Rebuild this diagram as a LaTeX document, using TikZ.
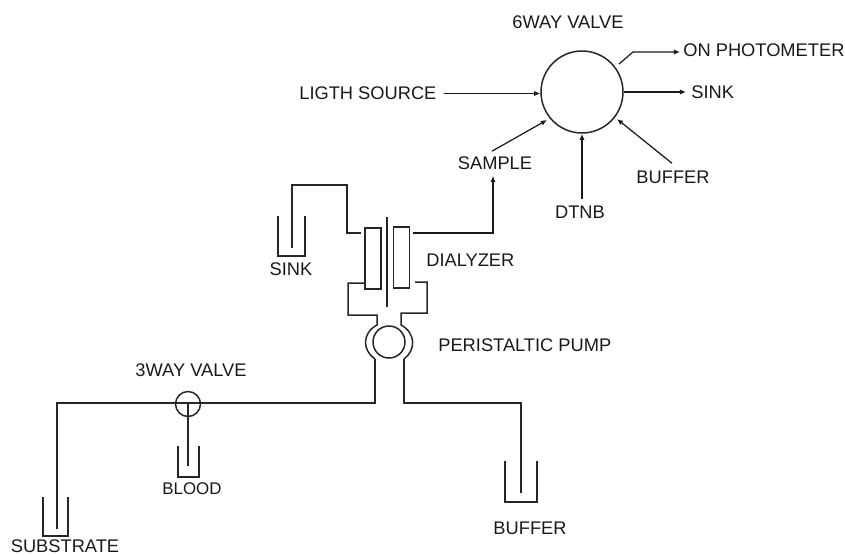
\documentclass[tikz,border=0pt]{standalone}
\usepackage{fontspec}
\setmainfont{Liberation Sans}
\usetikzlibrary{arrows.meta,positioning,calc}
\tikzset{
  lbl/.style={font=\fontsize{10.4}{12}\selectfont, text=black!90, inner sep=0pt},
  pipe/.style={draw=black!85, line width=0.85pt},
  line/.style={-{Latex[length=3.5pt,width=3pt]}, draw=black!90, line width=0.7pt},
  vessel/.style={minimum width=#1, inner sep=0pt, outer sep=0pt},
  cell/.style={pipe, minimum width=0.32cm, minimum height=1.22cm, inner sep=0pt, outer sep=0pt}
}

\begin{document}
\begin{tikzpicture}[x=0.02cm, y=-0.02cm]
  \useasboundingbox (0,0) rectangle (845,555);
  % six way valve
  \node[pipe, circle, minimum size=1.64cm, inner sep=0pt] (valvesix) at (582,92) {};
  \node[lbl] (valvesixlbl) at (568,22) {6WAY VALVE};
  \node[lbl, anchor=west] (photo) at (683,50) {ON PHOTOMETER};
  \node[lbl, anchor=west] (sinkout) at (691,92) {SINK};
  \node[lbl, anchor=west] (light) at (299,93.5) {LIGTH SOURCE};
  \node[lbl] (sample) at (495,163) {SAMPLE};
  \node[lbl] (bufin) at (673,177) {BUFFER};
  \node[lbl] (dtnb) at (580,212) {DTNB};
  \coordinate (photobend) at (633,52);
  \coordinate (photostart) at (619,64);
  \draw[line] (photostart) -- (photobend) -- ($(photo.west)+(-3,2)$);
  \draw[line] (valvesix.east) -- ($(sinkout.west)+(-5,0)$);
  \draw[line] ($(light.east)+(7,0)$) -- (light.east -| valvesix.west);
  \draw[line] ($(sample.north)+(-3,-5)$) -- (547,120);
  \draw[line] ($(bufin.north)+(-1,-7)$) -- (617,119);
  \draw[line] ($(dtnb.north)+(2,-6)$) -- (valvesix.south);

  % dialyzer
  \node[cell] (cellleft) at (373,258.5) {};
  \node[cell] (cellright) at (401.5,257.5) {};
  \coordinate (membtop) at (387,217);
  \coordinate (membbot) at (387,307);
  \draw[pipe] (membtop) -- (membbot);
  \node[lbl, anchor=west] (dialyzer) at (426,260) {DIALYZER};
  \coordinate (dialout) at (413,233);
  \draw[line] (dialout) -| ($(sample.south)+(-2,6)$);

  % pump
  \node[pipe, circle, minimum size=0.64cm, inner sep=0pt] (pump) at (389,342) {};
  \node[lbl, anchor=west] (pumplbl) at (438,345) {PERISTALTIC PUMP};
  \coordinate (pumpla) at (377,325);
  \coordinate (pumplb) at (375,359);
  \coordinate (pumpra) at (401,325);
  \coordinate (pumprb) at (404,359);
  \draw[pipe] (365,283) -- (348,283) -- (348,315) -- (377,315) -- (pumpla)
    .. controls (362,333) and (362,350) .. (pumplb);
  \draw[pipe] (415,282) -- (427,282) -- (427,313) -- (401,313) -- (pumpra)
    .. controls (416,333) and (416,350) .. (pumprb);

  % vessels
  \node[vessel=0.54cm, minimum height=0.8cm] (vesselsink) at (291.5,236) {};
  \node[vessel=0.42cm, minimum height=0.62cm] (vesselblood) at (188.5,461.5) {};
  \node[vessel=0.5cm, minimum height=0.78cm] (vesselsub) at (55.5,516.5) {};
  \node[vessel=0.64cm, minimum height=0.82cm] (vesselbuf) at (521,481.5) {};
  \foreach \v in {vesselsink,vesselblood,vesselsub,vesselbuf}
    \draw[pipe] (\v.north west) |- (\v.south east) -- (\v.north east);
  \node[lbl] (sinklbl) at (291,269) {SINK};
  \node[lbl, font=\fontsize{9.6}{11}\selectfont] (bloodlbl) at (192,489) {BLOOD};
  \node[lbl] (sublbl) at (65,546.5) {SUBSTRATE};
  \node[lbl] (buflbl) at (530,528) {BUFFER};

  % three way valve
  \node[pipe, circle, minimum size=0.5cm, inner sep=0pt] (valvethree) at (188,404) {};
  \node[lbl] (valvethreelbl) at (191,370) {3WAY VALVE};

  % tubing
  \coordinate (sinkend) at (292,248);
  \draw[pipe] (sinkend) -- (292,185) -- (347,185) -- (347,233) -- (361,233);
  \draw[pipe] (valvethree.center) -- (188,466);
  \draw[pipe] (pumplb) -- (375,403) -- (57,403) -- (57,529);
  \draw[pipe] (pumprb) -- (404,403) -- (521,403) -- (521,493);
\end{tikzpicture}
\end{document}
